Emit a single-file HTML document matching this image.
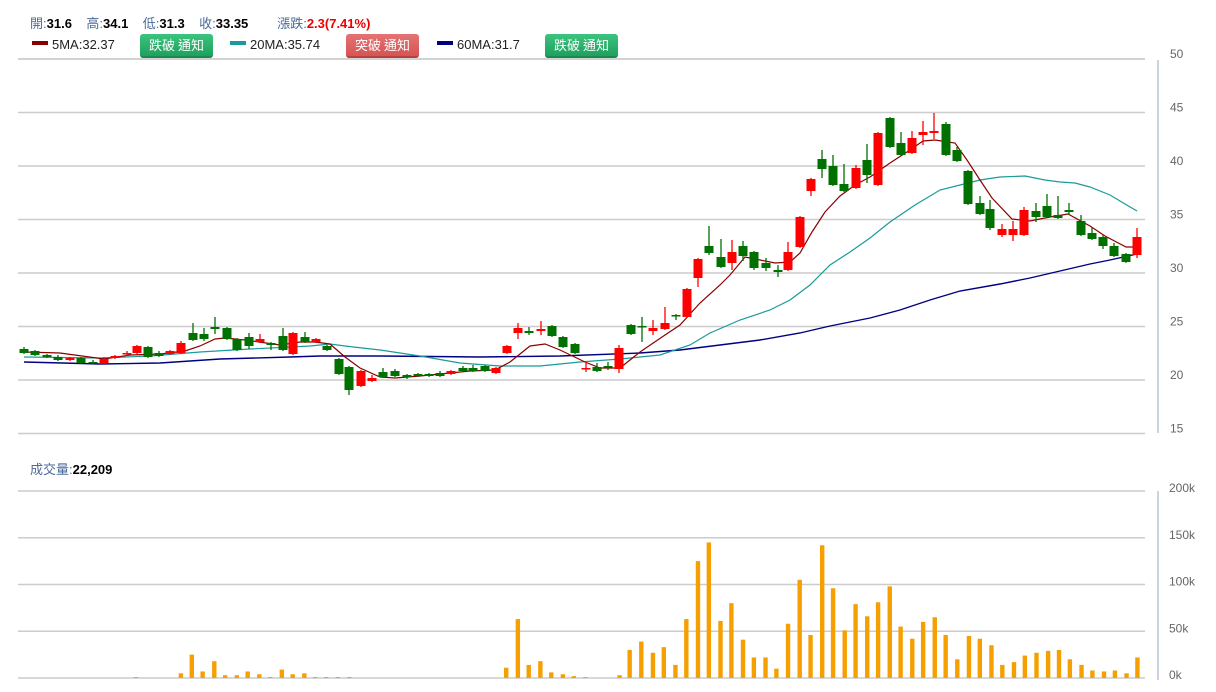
<!DOCTYPE html>
<html><head><meta charset="utf-8">
<style>
body{margin:0;background:#fff;width:1216px;height:692px;overflow:hidden;font-family:"Liberation Sans","Noto Sans CJK TC",sans-serif;}
.hdr{position:absolute;left:30px;top:13px;font-size:13px;color:#4a6a9a;white-space:nowrap}
.hdr b{color:#000}
.lg{position:absolute;top:37px;font-size:13px;color:#222;white-space:nowrap}
.sw{display:inline-block;width:16px;height:4px;vertical-align:middle;margin-right:4px;position:relative;top:-3px}
.btn{position:absolute;top:34px;height:22px;width:73px;border-radius:3px;color:#fff;font-size:13px;text-align:center;line-height:22px;font-family:"Noto Sans CJK TC",sans-serif}
.g{background:linear-gradient(#3cc47f,#1fa05e);border-bottom:2px solid #178a4e;}
.r{background:linear-gradient(#e57373,#d65454);border-bottom:2px solid #b84040;}
svg{position:absolute;left:0;top:0}
</style></head><body>
<div class="hdr">開:<b>31.6</b>&nbsp;&nbsp;&nbsp; 高:<b>34.1</b>&nbsp;&nbsp;&nbsp; 低:<b>31.3</b>&nbsp;&nbsp;&nbsp; 收:<b>33.35</b>&nbsp;&nbsp;&nbsp;&nbsp;&nbsp;&nbsp;&nbsp; 漲跌:<b style="color:#e00">2.3(7.41%)</b></div>
<div class="lg" style="left:32px"><span class="sw" style="background:#8b0000"></span>5MA:32.37</div>
<div class="btn g" style="left:140px">跌破 通知</div>
<div class="lg" style="left:230px"><span class="sw" style="background:#1a9a9a"></span>20MA:35.74</div>
<div class="btn r" style="left:346px">突破 通知</div>
<div class="lg" style="left:437px"><span class="sw" style="background:#000080"></span>60MA:31.7</div>
<div class="btn g" style="left:545px">跌破 通知</div>
<div style="position:absolute;left:30px;top:459px;font-size:13px;color:#4a6a9a">成交量:<b style="color:#000">22,209</b></div>
<svg id="s" width="1216" height="692" xmlns="http://www.w3.org/2000/svg"></svg>
<script>
var s=document.getElementById('s'),h='';
h+='<line x1="18" y1="59" x2="1145" y2="59" stroke="#ccc" stroke-width="1.5"/>';
var pl=[50,45,40,35,30,25,20,15];
pl.forEach(function(p,i){var y=59+i*53.5;h+='<line x1="18" y1="'+y+'" x2="1145" y2="'+y+'" stroke="#ccc" stroke-width="1.5"/>';h+='<text x="1170" y="'+(y-1)+'" font-size="12" fill="#666" font-family="Liberation Sans">'+p+'</text>';});
h+='<line x1="1158" y1="60" x2="1158" y2="433" stroke="#c8d4e4" stroke-width="2"/>';
var vl=['200k','150k','100k','50k','0k'];
vl.forEach(function(p,i){var y=491+i*46.75;h+='<line x1="18" y1="'+y+'" x2="1145" y2="'+y+'" stroke="#ccc" stroke-width="1.5"/>';h+='<text x="1169" y="'+(y+1)+'" font-size="12" fill="#666" font-family="Liberation Sans">'+p+'</text>';});
h+='<line x1="1158" y1="491" x2="1158" y2="680" stroke="#c8d4e4" stroke-width="2"/>';
var vol=[[175,1],[233,5],[247,25],[261,7],[276,18],[290,3],[305,3],[319,7],[334,4],[348,1],[363,9],[377,4],[392,5],[406,1],[420,1],[435,1],[450,1],[652,11],[667,63],[681,14],[696,18],[710,6],[725,4],[739,2],[754,1],[798,3],[811,30],[826,39],[841,27],[855,33],[870,14],[884,63],[899,125],[913,145],[928,61],[942,80],[957,41],[971,22],[986,22],[1000,10],[1015,58],[1030,105],[1044,46],[1059,142],[1073,96],[1088,51],[1102,79],[1117,66],[1131,81],[1146,98],[1160,55],[1175,42],[1189,60],[1204,65],[1218,46],[1233,20],[1248,45],[1262,42],[1277,35],[1291,14],[1306,17],[1320,24],[1335,27],[1350,29],[1364,30],[1378,20],[1393,14],[1407,8],[1422,7],[1436,8],[1451,5],[1465,22]];
vol.forEach(function(v){var x=v[0]/1.288,hh=v[1]*0.935;h+='<rect x="'+(x-2.2)+'" y="'+(678-hh)+'" width="4.4" height="'+hh+'" fill="#f5a000"/>';});
var c=[[24,349,353,347,354,'g'],[35,351,355,350,356,'g'],[47,355,357,354,358,'g'],[58,357,360,355,361,'g'],[70,358,360,357,361,'r'],[81,358,363,357,364,'g'],[93,362,363,360,364,'g'],[104,359,363,357,364,'r'],[115,356,358,355,359,'r'],[127,353,354,351,356,'r'],[137,346,353,345,354,'r'],[148,347,357,346,358,'g'],[159,353,356,351,357,'g'],[170,351,354,350,355,'r'],[181,343,353,341,354,'r'],[193,333,340,323,341,'g'],[204,334,339,328,341,'g'],[215,327,329,317,334,'g'],[227,328,339,327,340,'g'],[237,339,350,338,351,'g'],[249,337,346,333,349,'g'],[260,339,342,334,343,'r'],[271,343,345,342,350,'g'],[283,336,350,328,351,'g'],[293,333,354,332,355,'r'],[305,337,342,332,343,'g'],[316,339,342,338,343,'r'],[327,346,350,345,351,'g'],[339,359,374,358,375,'g'],[349,367,390,366,395,'g'],[361,371,386,370,387,'r'],[372,378,381,375,382,'r'],[383,372,377,368,378,'g'],[395,371,376,369,377,'g'],[407,375,377,374,379,'g'],[418,374,376,373,377,'g'],[429,374,376,373,377,'g'],[440,373,376,371,377,'g'],[451,371,374,370,375,'r'],[463,368,371,366,372,'g'],[473,368,371,365,372,'g'],[485,366,371,365,372,'g'],[496,368,373,367,374,'r'],[507,346,353,345,354,'r'],[518,328,333,323,339,'r'],[529,331,333,327,335,'g'],[541,329,331,321,335,'r'],[552,326,336,325,337,'g'],[563,337,347,336,348,'g'],[575,344,353,343,354,'g'],[586,368,369,362,372,'r'],[597,367,371,363,372,'g'],[608,366,367,362,370,'g'],[619,348,369,345,373,'r'],[631,325,334,324,335,'g'],[642,326,327,317,342,'g'],[653,328,331,320,335,'r'],[665,323,329,307,330,'r'],[676,315,316,314,320,'g'],[687,289,317,288,318,'r'],[698,259,278,258,287,'r'],[709,246,253,226,255,'g'],[721,257,267,239,268,'g'],[732,252,263,240,270,'r'],[743,246,256,241,261,'g'],[754,252,268,251,270,'g'],[766,263,268,258,271,'g'],[778,270,272,265,277,'g'],[788,252,270,242,271,'r'],[800,217,247,216,248,'r'],[811,179,191,178,196,'r'],[822,159,169,150,178,'g'],[833,166,185,155,186,'g'],[844,184,191,164,192,'g'],[856,168,188,165,189,'r'],[867,160,175,144,183,'g'],[878,133,185,132,186,'r'],[890,118,147,117,148,'g'],[901,143,155,132,156,'g'],[912,138,153,131,154,'r'],[923,132,135,121,145,'r'],[934,131,133,113,139,'r'],[946,124,155,122,156,'g'],[957,150,161,147,162,'g'],[968,171,204,170,205,'g'],[980,203,214,196,215,'g'],[990,209,228,200,230,'g'],[1002,229,235,224,237,'r'],[1013,229,235,221,241,'r'],[1024,210,235,207,236,'r'],[1036,211,217,203,222,'g'],[1047,206,217,194,218,'g'],[1058,215,218,196,219,'g'],[1069,210,212,203,215,'g'],[1081,221,235,215,236,'g'],[1092,233,239,227,240,'g'],[1103,237,246,235,249,'g'],[1114,246,256,243,257,'g'],[1126,254,262,253,263,'g'],[1137,237,255,228,258,'r']];
function line(pts,col,w){h+='<polyline fill="none" stroke="'+col+'" stroke-width="'+w+'" points="'+pts.map(function(p){return p.join(',')}).join(' ')+'"/>';}
line([[24,362],[100,364],[160,363],[220,359],[290,357],[320,356],[380,356],[480,357],[560,356],[640,353],[680,350],[720,345],[760,340],[800,333],[830,326],[870,318],[900,310],[930,300],[960,291],[1000,284],[1030,278],[1060,271],[1090,264],[1110,260],[1137,254]],'#000080',1.4);
line([[24,357],[100,358],[150,356],[200,352],[250,349],[310,346],[330,344],[345,346],[380,350],[420,356],[460,363],[500,366],[540,366],[580,362],[620,359],[660,355],[690,345],[710,333],[740,320],[770,310],[790,300],[810,285],[830,265],[850,252],[870,238],[890,222],[915,205],[940,190],[960,185],[980,180],[1000,177],[1025,176],[1045,180],[1060,182],[1075,183],[1090,187],[1110,195],[1125,204],[1137,211]],'#1a9a9a',1.2);
line([[24,352],[60,353],[104,359],[130,355],[160,354],[185,351],[200,346],[215,339],[225,338],[245,340],[280,345],[300,342],[315,342],[330,344],[345,357],[360,368],[380,377],[395,378],[420,376],[470,371],[495,370],[510,362],[530,346],[545,344],[560,350],[585,362],[600,368],[620,368],[640,352],[665,335],[680,325],[700,303],[720,285],[730,275],[745,257],[760,260],[775,263],[790,262],[800,253],[812,232],[825,212],[840,196],[855,185],[870,177],[890,163],[910,150],[923,141],[935,140],[955,143],[967,160],[980,180],[992,198],[1012,219],[1030,221],[1050,217],[1068,214],[1090,226],[1105,236],[1126,247],[1137,247]],'#8b0000',1.2);
c.forEach(function(k){var col=k[5]=='r'?'#ff0000':'#007000';var x=k[0];
h+='<line x1="'+x+'" y1="'+k[3]+'" x2="'+x+'" y2="'+k[4]+'" stroke="'+col+'" stroke-width="1.3"/>';
var bh=Math.max(k[2]-k[1],1.5);h+='<rect x="'+(x-4.5)+'" y="'+k[1]+'" width="9" height="'+bh+'" fill="'+col+'"/>';});
s.innerHTML=h;
</script>
</body></html>
